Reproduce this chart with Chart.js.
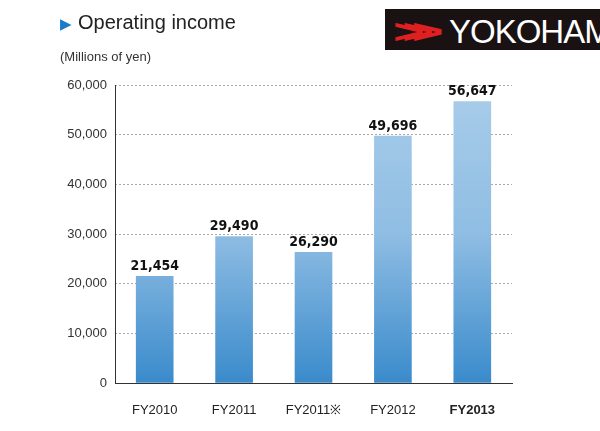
<!DOCTYPE html>
<html><head><meta charset="utf-8">
<script src="https://cdn.jsdelivr.net/npm/chart.js@4"></script>
<style>
body{margin:0;background:#fff;font-family:"Liberation Sans",Arial,sans-serif}
#wrap{position:relative;width:600px;height:431px}
canvas{position:absolute;left:0;top:0}
#title{position:absolute;left:60px;top:11px;font-size:20px;color:#222}
#title span{color:#1a7cc8;font-size:15px;margin-right:6px}
#unit{position:absolute;left:60px;top:49px;font-size:13px;color:#333}
#logo{position:absolute;left:385px;top:9px;width:215px;height:41px;background:#1a1212;overflow:hidden}
#logo .y{position:absolute;left:8px;top:3px;color:#e02020;font-size:34px;font-weight:bold;letter-spacing:-14px;transform:scaleX(1.6);transform-origin:left}
#logo .t{position:absolute;left:64px;top:4px;color:#fff;font-size:33px;letter-spacing:-1px}
</style></head><body>
<div id="wrap">
<canvas id="c" width="600" height="431"></canvas>
<div id="title"><span>▶</span>Operating income</div>
<div id="unit">(Millions of yen)</div>
<div id="logo"><div class="y">&gt;&gt;&gt;</div><div class="t">YOKOHAM</div></div>
</div>
<script>
const categories=["FY2010","FY2011","FY2011※","FY2012","FY2013"];
const values=[21454,29490,26290,49696,56647];
const yTicks=[0,10000,20000,30000,40000,50000,60000];
const labelPlugin={id:'lbl',afterDatasetsDraw(ch){const c=ch.ctx;const m=ch.getDatasetMeta(0);c.save();c.font='bold 14px "Liberation Sans Narrow","DejaVu Sans Condensed",sans-serif';c.fillStyle='#111';c.textAlign='center';c.textBaseline='bottom';m.data.forEach((b,i)=>c.fillText(values[i].toLocaleString('en-US'),b.x,b.y-3));
const a=ch.chartArea;c.strokeStyle='#333';c.lineWidth=1;c.setLineDash([]);c.beginPath();c.moveTo(a.left+0.5,a.top);c.lineTo(a.left+0.5,a.bottom);c.stroke();c.restore();}};
new Chart(document.getElementById('c'),{type:'bar',
data:{labels:categories,datasets:[{data:values,barThickness:37,
backgroundColor(ctx){const a=ctx.chart.chartArea;if(!a)return '#6aa8dc';const g=ctx.chart.ctx.createLinearGradient(0,a.top,0,a.bottom);g.addColorStop(0,'#a9cdea');g.addColorStop(0.5,'#8fbde3');g.addColorStop(1,'#3a8bcc');return g;}}]},
options:{responsive:false,animation:false,layout:{padding:{left:0,right:88,top:85,bottom:0}},
plugins:{legend:{display:false},tooltip:{enabled:false}},
scales:{
x:{grid:{display:false},border:{color:'#333',width:1},afterFit(s){s.height=48;},
ticks:{color:'#222',padding:12,font(ctx){return {size:13,family:'"Liberation Sans",Arial',weight:ctx.index===4?'bold':'normal'};}}},
y:{min:0,max:60000,afterFit(s){s.width=115;},afterBuildTicks(s){s.ticks=yTicks.map(v=>({value:v}));},
grid:{color:'#aaa',drawTicks:false},border:{display:false,dash:[2,2]},
ticks:{color:'#333',padding:8,font:{size:13,family:'"Liberation Sans",Arial'},callback:v=>v.toLocaleString('en-US')}}}},
plugins:[labelPlugin]});
</script></body></html>
